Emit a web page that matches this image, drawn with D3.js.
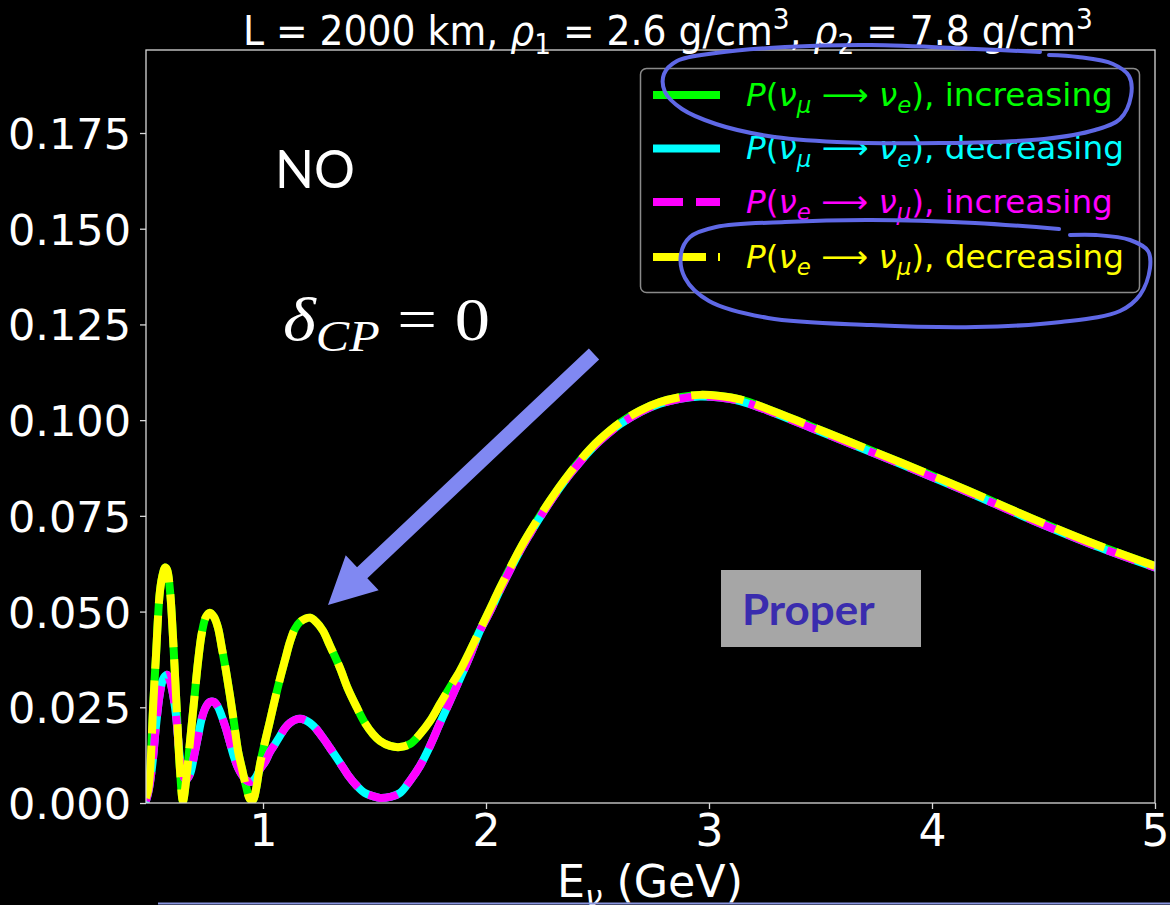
<!DOCTYPE html>
<html><head><meta charset="utf-8">
<script src="https://cdn.jsdelivr.net/npm/d3@7"></script>
<style>html,body{margin:0;padding:0;background:#000;} svg{display:block;}</style>
</head><body>
<svg id="chart" width="1170" height="905"></svg>
<script>
// ---------------- DATA ----------------
const energy = [0.475,0.484,0.493,0.507,0.520,0.538,0.552,0.561,0.570,0.583,0.596,0.610,0.628,0.641,0.655,0.673,0.691,0.709,0.726,0.744,0.762,0.780,0.798,0.816,0.834,0.852,0.870,0.888,0.906,0.924,0.942,0.955,0.969,0.987,1.009,1.031,1.054,1.076,1.099,1.121,1.143,1.166,1.188,1.211,1.238,1.269,1.300,1.345,1.381,1.422,1.457,1.493,1.525,1.570,1.614,1.659,1.704,1.749,1.794,1.839,1.883,1.928,1.973,2.018,2.063,2.108,2.152,2.197,2.242,2.287,2.332,2.377,2.422,2.466,2.511,2.601,2.691,2.780,2.870,2.960,3.049,3.139,3.260,3.453,3.632,3.857,4.157,4.453,4.753,5.000];
// P(nu_mu -> nu_e), increasing density profile (green)
const pMuE_inc = [0.0013,0.0031,0.0076,0.0248,0.0384,0.0554,0.0601,0.0615,0.0609,0.0554,0.0437,0.0280,0.0084,0.0005,0.0058,0.0162,0.0267,0.0371,0.0445,0.0486,0.0497,0.0486,0.0458,0.0403,0.0345,0.0280,0.0209,0.0136,0.0089,0.0044,0.0010,0.0008,0.0037,0.0102,0.0160,0.0214,0.0272,0.0324,0.0374,0.0421,0.0455,0.0473,0.0481,0.0484,0.0473,0.0450,0.0411,0.0353,0.0298,0.0248,0.0209,0.0180,0.0162,0.0149,0.0146,0.0154,0.0180,0.0214,0.0259,0.0303,0.0345,0.0397,0.0452,0.0507,0.0562,0.0614,0.0663,0.0708,0.0750,0.0790,0.0828,0.0863,0.0895,0.0924,0.0950,0.0993,0.1025,0.1047,0.1060,0.1066,0.1063,0.1054,0.1030,0.0985,0.0943,0.0890,0.0817,0.0742,0.0671,0.0619];
// P(nu_mu -> nu_e), decreasing (cyan)
const pMuE_dec = [0.0005,0.0024,0.0052,0.0118,0.0201,0.0288,0.0324,0.0332,0.0335,0.0319,0.0285,0.0228,0.0115,0.0073,0.0060,0.0076,0.0123,0.0175,0.0222,0.0251,0.0264,0.0264,0.0251,0.0225,0.0194,0.0157,0.0120,0.0092,0.0073,0.0060,0.0055,0.0058,0.0068,0.0089,0.0107,0.0133,0.0154,0.0175,0.0196,0.0209,0.0217,0.0220,0.0217,0.0209,0.0194,0.0170,0.0144,0.0105,0.0073,0.0044,0.0026,0.0018,0.0013,0.0016,0.0026,0.0058,0.0097,0.0149,0.0209,0.0267,0.0324,0.0384,0.0450,0.0500,0.0556,0.0609,0.0658,0.0703,0.0746,0.0786,0.0824,0.0859,0.0891,0.0920,0.0946,0.0989,0.1021,0.1043,0.1056,0.1062,0.1059,0.1050,0.1026,0.0981,0.0939,0.0886,0.0813,0.0738,0.0667,0.0615];
// P(nu_e -> nu_mu), increasing (magenta)
const pEMu_inc = [0.0005,0.0024,0.0052,0.0118,0.0201,0.0288,0.0324,0.0332,0.0335,0.0319,0.0285,0.0228,0.0115,0.0073,0.0060,0.0076,0.0123,0.0175,0.0222,0.0251,0.0264,0.0264,0.0251,0.0225,0.0194,0.0157,0.0120,0.0092,0.0073,0.0060,0.0055,0.0058,0.0068,0.0089,0.0107,0.0133,0.0154,0.0175,0.0196,0.0209,0.0217,0.0220,0.0217,0.0209,0.0194,0.0170,0.0144,0.0105,0.0073,0.0044,0.0026,0.0018,0.0013,0.0016,0.0026,0.0058,0.0097,0.0149,0.0209,0.0267,0.0324,0.0384,0.0450,0.0500,0.0556,0.0609,0.0658,0.0703,0.0746,0.0786,0.0824,0.0859,0.0891,0.0920,0.0946,0.0989,0.1021,0.1043,0.1056,0.1062,0.1059,0.1050,0.1026,0.0981,0.0939,0.0886,0.0813,0.0738,0.0667,0.0615];
// P(nu_e -> nu_mu), decreasing (yellow)
const pEMu_dec = [0.0013,0.0031,0.0076,0.0248,0.0384,0.0554,0.0601,0.0615,0.0609,0.0554,0.0437,0.0280,0.0084,0.0005,0.0058,0.0162,0.0267,0.0371,0.0445,0.0486,0.0497,0.0486,0.0458,0.0403,0.0345,0.0280,0.0209,0.0136,0.0089,0.0044,0.0010,0.0008,0.0037,0.0102,0.0160,0.0214,0.0272,0.0324,0.0374,0.0421,0.0455,0.0473,0.0481,0.0484,0.0473,0.0450,0.0411,0.0353,0.0298,0.0248,0.0209,0.0180,0.0162,0.0149,0.0146,0.0154,0.0180,0.0214,0.0259,0.0303,0.0345,0.0397,0.0452,0.0507,0.0562,0.0614,0.0663,0.0708,0.0750,0.0790,0.0828,0.0863,0.0895,0.0924,0.0950,0.0993,0.1025,0.1047,0.1060,0.1066,0.1063,0.1054,0.1030,0.0985,0.0943,0.0890,0.0817,0.0742,0.0671,0.0619];

const xTicks = [1, 2, 3, 4, 5];
const xTickLabels = ["1", "2", "3", "4", "5"];
const yTicks = [0, 0.025, 0.05, 0.075, 0.1, 0.125, 0.15, 0.175];
const yTickLabels = ["0.000", "0.025", "0.050", "0.075", "0.100", "0.125", "0.150", "0.175"];
const xDomain = [0.4753, 5];
const yDomain = [0, 0.19668];

const seriesValues = [pMuE_inc, pMuE_dec, pEMu_inc, pEMu_dec];
const seriesColors = ["#00ff00", "#00ffff", "#ff00ff", "#ffff00"];
const seriesDash = [null, null, "30,13", "53,12"];
const legendLabels = [
  [{t:"P",it:1},{t:"("},{t:"ν",it:1},{t:"μ",it:1,sub:1},{t:" ⟶ "},{t:"ν",it:1},{t:"e",it:1,sub:1},{t:"), increasing"}],
  [{t:"P",it:1},{t:"("},{t:"ν",it:1},{t:"μ",it:1,sub:1},{t:" ⟶ "},{t:"ν",it:1},{t:"e",it:1,sub:1},{t:"), decreasing"}],
  [{t:"P",it:1},{t:"("},{t:"ν",it:1},{t:"e",it:1,sub:1},{t:" ⟶ "},{t:"ν",it:1},{t:"μ",it:1,sub:1},{t:"), increasing"}],
  [{t:"P",it:1},{t:"("},{t:"ν",it:1},{t:"e",it:1,sub:1},{t:" ⟶ "},{t:"ν",it:1},{t:"μ",it:1,sub:1},{t:"), decreasing"}]
];
const titleSegs = [{t:"L = 2000 km, "},{t:"ρ",it:1},{t:"1",sub:1},{t:" = 2.6 g/cm"},{t:"3",sup:1},{t:", "},{t:"ρ",it:1},{t:"2",sub:1},{t:" = 7.8 g/cm"},{t:"3",sup:1}];

// ---------------- LAYOUT ----------------
const svg = d3.select("#chart");
const W = 1170, H = 905;
const plot = {left: 146, right: 1155, top: 50, bottom: 803};
svg.append("rect").attr("width", W).attr("height", H).attr("fill", "#000");

const x = d3.scaleLinear().domain(xDomain).range([plot.left, plot.right]);
const y = d3.scaleLinear().domain(yDomain).range([plot.bottom, plot.top]);

function rich(textSel, segs, size) {
  let shift = 0;
  segs.forEach(s => {
    const target = s.sub ? size * 0.22 : (s.sup ? -size * 0.4 : 0);
    const ts = textSel.append("tspan").text(s.t)
      .attr("dy", (target - shift).toFixed(2))
      .attr("font-size", (s.sub || s.sup) ? size * 0.7 : size);
    if (s.it) ts.attr("font-style", "italic");
    shift = target;
  });
}
function fitWidth(sel, target, anchorX) {
  const bb = sel.node().getBBox();
  const s = target / bb.width;
  const ax = anchorX === undefined ? bb.x : anchorX;
  sel.attr("transform", `translate(${ax},0) scale(${s},1) translate(${-ax},0)`);
  return s;
}

svg.append("clipPath").attr("id", "clip").append("rect")
  .attr("x", plot.left).attr("y", plot.top)
  .attr("width", plot.right - plot.left).attr("height", plot.bottom - plot.top);

// curves
const line = d3.line().x(d => x(d[0])).y(d => y(d[1])).curve(d3.curveCatmullRom.alpha(0.5));
const gCurves = svg.append("g").attr("clip-path", "url(#clip)");
seriesValues.forEach((vals, i) => {
  const pts = energy.map((e, k) => [e, vals[k]]);
  const p = gCurves.append("path").datum(pts).attr("d", line)
    .attr("fill", "none").attr("stroke", seriesColors[i]).attr("stroke-width", 8)
    .attr("stroke-linejoin", "round");
  if (seriesDash[i]) p.attr("stroke-dasharray", seriesDash[i]).attr("stroke-linecap", "butt");
  else p.attr("stroke-linecap", "square");
});

// frame
svg.append("rect").attr("x", plot.left).attr("y", plot.top)
  .attr("width", plot.right - plot.left).attr("height", plot.bottom - plot.top)
  .attr("fill", "none").attr("stroke", "#d8d8d8").attr("stroke-width", 1.3);

// axes
const xAxis = d3.axisBottom(x).tickValues(xTicks).tickFormat((d, i) => xTickLabels[i]).tickSize(6).tickPadding(6);
const gx = svg.append("g").attr("transform", `translate(0,${plot.bottom})`).call(xAxis);
gx.select(".domain").remove();
gx.selectAll("line").attr("stroke", "#d8d8d8").attr("stroke-width", 1.3);
gx.selectAll("text").attr("fill", "#fff").attr("font-family", "DejaVu Sans").attr("font-size", 44)
  .attr("dy", "0").attr("y", 43);

const yAxis = d3.axisLeft(y).tickValues(yTicks).tickFormat((d, i) => yTickLabels[i]).tickSize(6).tickPadding(9);
const gy = svg.append("g").attr("transform", `translate(${plot.left},0)`).call(yAxis);
gy.select(".domain").remove();
gy.selectAll("line").attr("stroke", "#d8d8d8").attr("stroke-width", 1.3);
gy.selectAll("text").attr("fill", "#fff").attr("font-family", "DejaVu Sans").attr("font-size", 43)
  .attr("dy", "0.36em").attr("x", -15);

// x label
const xl = svg.append("text").attr("x", 650).attr("y", 897).attr("fill", "#fff")
  .attr("font-family", "DejaVu Sans").attr("text-anchor", "middle");
rich(xl, [{t:"E"},{t:"ν",it:1,sub:1},{t:" (GeV)"}], 44);
fitWidth(xl, 186, 650);

// title
const title = svg.append("text").attr("x", 243).attr("y", 45).attr("fill", "#fff")
  .attr("font-family", "DejaVu Sans");
rich(title, titleSegs, 41);
fitWidth(title, 850, 243);

// legend
const lg = svg.append("g");
lg.append("rect").attr("x", 640.5).attr("y", 68.5).attr("width", 499).attr("height", 224)
  .attr("rx", 6).attr("fill", "#000").attr("stroke", "#8a8a8a").attr("stroke-width", 1.5);
const rowY = [95, 148.5, 202, 257];
let legScale = null;
legendLabels.forEach((segs, i) => {
  const l = lg.append("line").attr("x1", 653).attr("x2", 720).attr("y1", rowY[i]).attr("y2", rowY[i])
    .attr("stroke", seriesColors[i]).attr("stroke-width", 8);
  if (seriesDash[i]) l.attr("stroke-dasharray", seriesDash[i]);
  const t = lg.append("text").attr("x", 746).attr("y", rowY[i] + 11).attr("fill", seriesColors[i])
    .attr("font-family", "DejaVu Sans");
  rich(t, segs, 32);
  if (legScale === null) legScale = fitWidth(t, 367, 746);
  else t.attr("transform", `translate(746,0) scale(${legScale},1) translate(-746,0)`);
});

// annotations
const no = svg.append("text").attr("x", 275).attr("y", 188).attr("fill", "#fff")
  .attr("font-family", "Lato, 'Open Sans', sans-serif").attr("font-size", 53).text("NO");
fitWidth(no, 80, 275);

const dl = svg.append("text").attr("x", 283).attr("y", 340).attr("fill", "#fff")
  .attr("font-family", "'Liberation Serif', 'DejaVu Serif', serif");
dl.append("tspan").attr("font-style", "italic").attr("font-size", 62).text("δ");
dl.append("tspan").attr("font-style", "italic").attr("font-size", 44).attr("dy", 11).text("CP");
dl.append("tspan").attr("font-size", 62).attr("dy", -11).text(" = 0");
fitWidth(dl, 207, 283);

// arrow
(function(){
  const tail = [594, 354], tip = [328, 605];
  const dx = tip[0] - tail[0], dy = tip[1] - tail[1];
  const L = Math.hypot(dx, dy), ux = dx / L, uy = dy / L, nx = -uy, ny = ux;
  const sw = 7.5, hl = 47, hw = 24;
  const bx = tip[0] - ux * hl, by = tip[1] - uy * hl;
  const pts = [
    [tail[0] + nx * sw, tail[1] + ny * sw], [bx + nx * sw, by + ny * sw], [bx + nx * hw, by + ny * hw],
    tip, [bx - nx * hw, by - ny * hw], [bx - nx * sw, by - ny * sw], [tail[0] - nx * sw, tail[1] - ny * sw]
  ];
  svg.append("polygon").attr("points", pts.map(p => p.join(",")).join(" ")).attr("fill", "#8088f2");
})();

// Proper box
svg.append("rect").attr("x", 721).attr("y", 570).attr("width", 200).attr("height", 77).attr("fill", "#a6a6a6");
const pr = svg.append("text").attr("x", 742).attr("y", 625).attr("fill", "#3a2cae")
  .attr("font-family", "Lato, 'Open Sans', sans-serif").attr("font-weight", "bold").attr("font-size", 42).text("Proper");
fitWidth(pr, 133, 742);

// hand-drawn ellipses
const ell1 = [[1040,52],[975,49],[871,45],[785,47],[716,53],[677,61],[664,74],[665,92],[682,109],[716,124],[768,136],[837,142],[940,143],[1044,139],[1095,130],[1120,119],[1131,96],[1129,76],[1113,64],[1078,57],[1049,55]];
const ell2 = [[1059,229],[975,223],[871,220],[785,222],[716,227],[690,237],[681,254],[685,278],[709,301],[768,318],[871,325],[975,327],[1061,322],[1120,311],[1140,295],[1150,268],[1148,251],[1130,240],[1096,235],[1070,235]];
const hand = d3.line().curve(d3.curveCatmullRom.alpha(0.5));
[ell1, ell2].forEach(pts => {
  svg.append("path").attr("d", hand(pts)).attr("fill", "none").attr("stroke", "#5f68e6")
    .attr("stroke-width", 4).attr("stroke-linecap", "round").attr("stroke-linejoin", "round");
});

svg.append("line").attr("x1", 158).attr("x2", 1170).attr("y1", 903.5).attr("y2", 903.5)
  .attr("stroke", "#8a96e0").attr("stroke-width", 2);
</script>
</body></html>
